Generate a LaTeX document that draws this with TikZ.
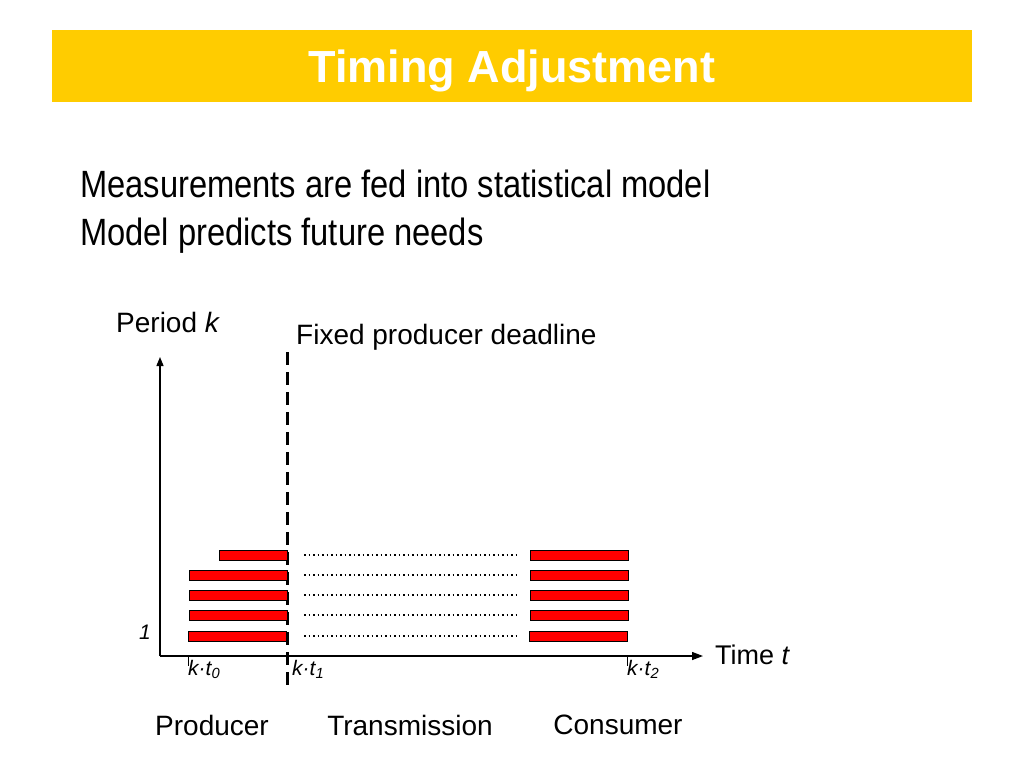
\documentclass[tikz,border=0pt]{standalone}
\usepackage{fontspec}
\setmainfont{Liberation Sans}
\newfontfamily\narrowfont[FakeStretch=0.86]{Liberation Sans}
\usetikzlibrary{arrows.meta}
\definecolor{banner}{HTML}{FFCC00}
\definecolor{barred}{HTML}{FF0000}
\tikzset{
  bar/.style={draw=black, fill=barred, line width=0.8pt, minimum height=10pt, inner sep=0pt, anchor=west},
  dotline/.style={line width=1.7pt, dash pattern=on 1.7pt off 2.8pt},
  lbl/.style={inner sep=0pt, font=\fontsize{28}{32}\selectfont},
  tick/.style={inner sep=0pt, anchor=north west, font=\fontsize{21}{24}\selectfont\itshape},
}
\begin{document}
\begin{tikzpicture}[x=1pt,y=-1pt]
\useasboundingbox (0,0) rectangle (1024,768);
\node[fill=banner, minimum width=920pt, minimum height=72pt, inner sep=0pt] (ban) at (512,66) {};
\node[text=white, inner sep=0pt, font=\fontsize{45}{54}\selectfont\bfseries] (title) at (512,71) {Timing Adjustment};
\node[anchor=base west, inner sep=0pt, font=\fontsize{38}{44}\narrowfont] (l1) at (80,197) {Measurements are fed into statistical model};
\node[anchor=base west, inner sep=0pt, font=\fontsize{38}{44}\narrowfont] (l2) at (80,245) {Model predicts future needs};
% axes
\coordinate (o) at (160,656);
\coordinate (ytop) at (160,357);
\coordinate (xend) at (703,656);
\draw[line width=1.3pt, -{Triangle[length=9pt,width=7pt]}] (o) -- (ytop);
\draw[line width=1.3pt, -{Triangle[length=11pt,width=8pt]}] (o) -- (xend);
% deadline
\coordinate (dtop) at (287,352);
\coordinate (dbot) at (287,688);
\draw[line width=3pt, dash pattern=on 13pt off 7pt] (dtop) -- (dbot);
\node[lbl, anchor=west] (period) at (116,322) {Period \textit{k}};
\node[lbl, anchor=west] (fixed) at (296,337) {Fixed producer deadline};
\node[lbl, anchor=west, font=\fontsize{27}{32}\selectfont] (time) at (715,655) {Time \textit{t}};
\node[inner sep=0pt, font=\fontsize{21}{24}\selectfont\itshape] (one) at (145,632) {1};
% bars
\node[bar, minimum width=68pt] (p1) at (219,555) {};
\node[bar, minimum width=98pt] (p2) at (189,575) {};
\node[bar, minimum width=98pt] (p3) at (189,595) {};
\node[bar, minimum width=98pt] (p4) at (189,615) {};
\node[bar, minimum width=98pt] (p5) at (188,636) {};
\node[bar, minimum width=98pt] (c1) at (530,555) {};
\node[bar, minimum width=98pt] (c2) at (530,575) {};
\node[bar, minimum width=98pt] (c3) at (530,595) {};
\node[bar, minimum width=98pt] (c4) at (530,615) {};
\node[bar, minimum width=98pt] (c5) at (529,636) {};
\foreach \y/\i in {555/1,575/2,595/3,615/4,636/5}{
  \coordinate (ds\i) at (304,\y);
  \coordinate (de\i) at (516,\y);
  \draw[dotline] (ds\i) -- (de\i);
}
% ticks
\coordinate (t0a) at (188,656); \coordinate (t0b) at (188,666);
\coordinate (t2a) at (627,656); \coordinate (t2b) at (627,666);
\draw[line width=0.8pt] (t0a) -- (t0b);
\draw[line width=0.8pt] (t2a) -- (t2b);
\node[tick] (k0) at (188,660) {k·t\textsubscript{0}};
\node[tick] (k1) at (292,660) {k·t\textsubscript{1}};
\node[tick] (k2) at (627,660) {k·t\textsubscript{2}};
% phases
\node[lbl] (prod) at (212,725) {Producer};
\node[lbl] (trans) at (410,725) {Transmission};
\node[lbl] (cons) at (618,725) {Consumer};
\end{tikzpicture}
\end{document}
